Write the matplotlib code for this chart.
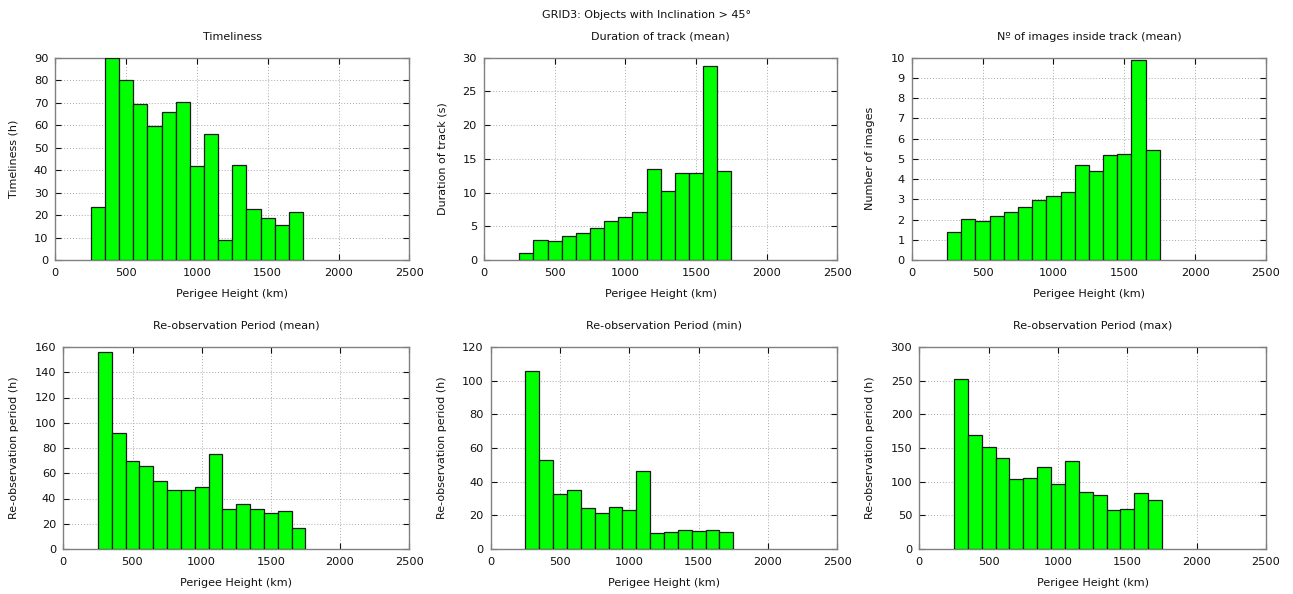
import numpy as np
import matplotlib
matplotlib.use('Agg')
from matplotlib import pyplot as plt

# bin centres of perigee height (km), 100 km wide bins
heights = [300, 400, 500, 600, 700, 800, 900, 1000, 1100, 1200, 1300, 1400, 1500, 1600, 1700]

timeliness = [23.4, 89.7, 79.9, 69.2, 59.8, 65.7, 70.3, 42.0, 56.0, 8.9, 42.1, 22.5, 18.5, 15.4, 21.2]
track_duration = [1.1, 2.95, 2.75, 3.5, 4.05, 4.7, 5.8, 6.45, 7.05, 13.5, 10.2, 12.85, 12.85, 28.7, 13.25]
n_images = [1.37, 2.01, 1.91, 2.16, 2.36, 2.6, 2.97, 3.15, 3.34, 4.68, 4.38, 5.2, 5.23, 9.88, 5.45]
reobs_mean = [155.8, 91.6, 70.0, 65.5, 54.1, 46.5, 46.5, 49.4, 75.0, 31.4, 35.9, 31.4, 28.3, 29.8, 16.4]
reobs_min = [105.7, 52.7, 32.7, 34.9, 24.2, 21.2, 25.1, 23.0, 46.1, 9.7, 10.3, 11.1, 10.7, 11.5, 10.1]
reobs_max = [252.0, 168.8, 151.5, 134.7, 103.5, 105.0, 121.3, 96.0, 131.2, 84.7, 79.7, 57.4, 58.9, 83.7, 72.8]

BIN_WIDTH = 100
W, H = 1293, 594
TXT = '#111111'

panels = [
    # (values, title, ylabel, ymax, ystep, box in pixels: left, top, right, bottom)
    (timeliness, 'Timeliness', 'Timeliness (h)', 90, 10, (55.3, 57.7, 409.3, 260)),
    (track_duration, 'Duration of track (mean)', 'Duration of track (s)', 30, 5, (484, 57.7, 837.3, 260)),
    (n_images, 'Nº of images inside track (mean)', 'Number of images', 10, 1, (911.7, 57.7, 1266, 260)),
    (reobs_mean, 'Re-observation Period (mean)', 'Re-observation period (h)', 160, 20, (63.3, 347, 409.3, 549)),
    (reobs_min, 'Re-observation Period (min)', 'Re-observation period (h)', 120, 20, (490.7, 347, 837.3, 549)),
    (reobs_max, 'Re-observation Period (max)', 'Re-observation period (h)', 300, 50, (919.3, 347, 1266, 549)),
]

plt.rcParams['font.family'] = ['DejaVu Sans']
plt.rcParams['font.size'] = 8

fig = plt.figure(figsize=(W / 100, H / 100), dpi=100, facecolor='white')

for vals, title, ylabel, ymax, ystep, (l, t, r, b) in panels:
    ax = fig.add_axes([l / W, 1 - b / H, (r - l) / W, (b - t) / H])
    ax.bar(heights, vals, width=BIN_WIDTH, color='#00ff00', edgecolor='#1a1a1a',
           linewidth=0.9, zorder=3)
    ax.set_xlim(0, 2500)
    ax.set_ylim(0, ymax)
    ax.set_xticks(np.arange(0, 2501, 500))
    ax.set_yticks(np.arange(0, ymax + ystep / 2, ystep))
    ax.grid(True, color='#a8a8a8', linestyle=(0, (1, 2)), linewidth=0.7, zorder=0)
    ax.tick_params(direction='in', top=True, right=True, length=4, width=0.8,
                   color=TXT, labelsize=8.2, labelcolor=TXT)
    ax.tick_params(axis='x', pad=6)
    ax.tick_params(axis='y', pad=5)
    for sp in ax.spines.values():
        sp.set_color('#808080')
        sp.set_linewidth(1.0)
    ax.set_title(title, fontsize=8, color=TXT, pad=13)
    ax.set_ylabel(ylabel, fontsize=8, color=TXT, labelpad=11)
    ax.set_xlabel('Perigee Height (km)', fontsize=8, color=TXT, labelpad=8)

fig.suptitle('GRID3: Objects with Inclination > 45°', fontsize=8, color=TXT, y=1 - 15 / H, va='center')

fig.savefig('out.png', dpi=100, facecolor='white')
